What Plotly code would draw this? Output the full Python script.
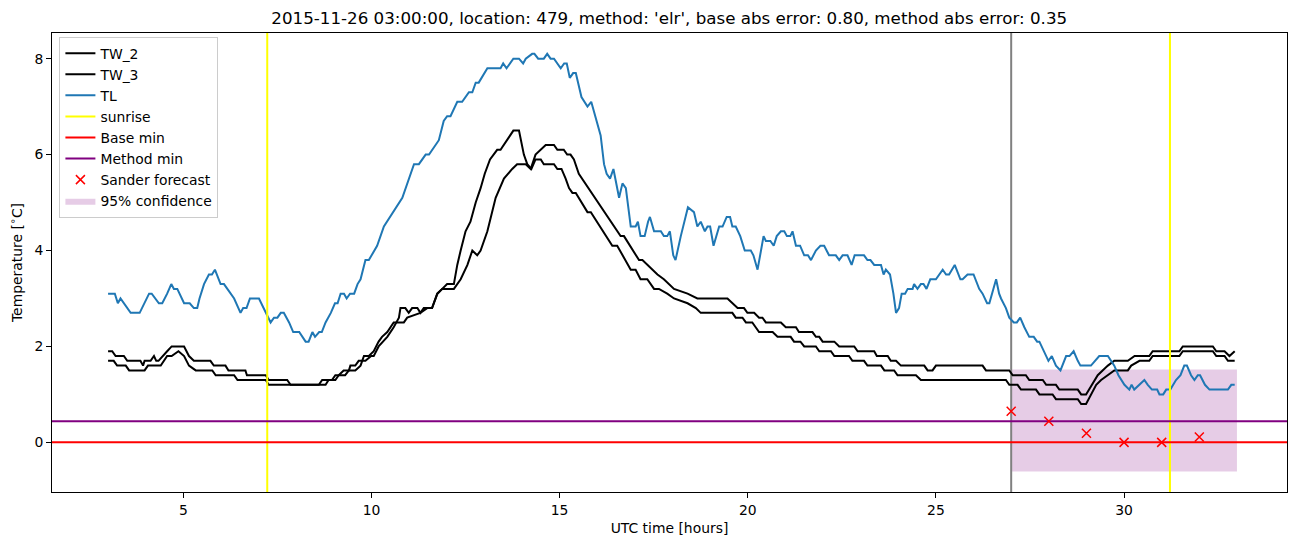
import plotly.graph_objects as go

TITLE = "2015-11-26 03:00:00, location: 479, method: 'elr', base abs error: 0.80, method abs error: 0.35"

TL_POINTS = [
    (3.0, 3.1), (3.18, 3.1), (3.26, 2.9), (3.33, 3.0), (3.6, 2.7), (3.84, 2.7), (4.09, 3.1), (4.16, 3.1),
    (4.35, 2.9), (4.44, 2.9), (4.57, 3.1), (4.68, 3.3), (4.75, 3.2), (4.84, 3.2), (5.02, 2.9), (5.17, 2.9),
    (5.28, 2.8), (5.37, 2.8), (5.43, 3.0), (5.55, 3.3), (5.68, 3.5), (5.76, 3.5), (5.84, 3.6), (5.99, 3.3),
    (6.08, 3.3), (6.35, 3.0), (6.52, 2.7), (6.59, 2.8), (6.68, 2.8), (6.77, 3.0), (7.01, 3.0), (7.19, 2.7),
    (7.32, 2.5), (7.41, 2.6), (7.5, 2.6), (7.59, 2.7), (7.67, 2.7), (7.81, 2.5), (7.92, 2.3), (8.08, 2.3),
    (8.25, 2.1), (8.33, 2.1), (8.43, 2.3), (8.5, 2.2), (8.61, 2.3), (8.68, 2.3), (8.78, 2.5), (8.92, 2.7),
    (9.03, 2.9), (9.1, 2.9), (9.18, 3.1), (9.27, 3.1), (9.34, 3.0), (9.43, 3.1), (9.54, 3.1), (9.63, 3.3),
    (9.71, 3.4), (9.84, 3.8), (9.93, 3.8), (10.15, 4.1), (10.33, 4.5), (10.82, 5.1), (11.13, 5.8), (11.26, 5.8),
    (11.44, 6.0), (11.53, 6.0), (11.79, 6.3), (11.92, 6.7), (12.01, 6.8), (12.1, 6.8), (12.28, 7.1), (12.41, 7.1),
    (12.59, 7.3), (12.68, 7.3), (12.77, 7.5), (12.85, 7.5), (13.08, 7.8), (13.43, 7.8), (13.5, 7.9), (13.59, 7.8),
    (13.77, 8.0), (13.92, 8.0), (14.03, 7.9), (14.1, 8.0), (14.27, 8.1), (14.33, 8.1), (14.43, 8.0), (14.58, 8.0),
    (14.67, 8.1), (14.76, 8.0), (14.85, 8.0), (15.03, 7.8), (15.12, 7.9), (15.19, 7.9), (15.27, 7.6), (15.36, 7.7),
    (15.43, 7.7), (15.58, 7.2), (15.74, 7.0), (15.84, 7.1), (15.91, 6.9), (16.09, 6.4), (16.18, 5.8), (16.25, 5.6),
    (16.34, 5.5), (16.43, 5.7), (16.58, 5.1), (16.67, 5.4), (16.76, 5.3), (16.89, 4.5), (17.02, 4.5), (17.08, 4.6),
    (17.15, 4.3), (17.26, 4.3), (17.35, 4.6), (17.4, 4.7), (17.51, 4.4), (17.69, 4.4), (17.77, 4.3), (17.86, 4.3),
    (17.93, 4.4), (18.02, 3.9), (18.08, 3.8), (18.22, 4.3), (18.41, 4.9), (18.57, 4.8), (18.66, 4.5), (18.75, 4.6),
    (18.86, 4.4), (18.93, 4.5), (19.0, 4.5), (19.09, 4.1), (19.24, 4.5), (19.33, 4.5), (19.44, 4.7), (19.53, 4.7),
    (19.59, 4.5), (19.68, 4.5), (19.8, 4.3), (19.92, 4.0), (20.08, 4.0), (20.15, 3.9), (20.26, 3.6), (20.42, 4.3),
    (20.48, 4.2), (20.6, 4.2), (20.69, 4.1), (20.77, 4.3), (20.88, 4.4), (20.97, 4.4), (21.04, 4.3), (21.13, 4.3),
    (21.19, 4.4), (21.28, 4.1), (21.39, 4.1), (21.5, 3.9), (21.6, 3.9), (21.68, 3.8), (21.81, 4.0), (21.93, 4.1),
    (22.03, 4.1), (22.16, 3.9), (22.34, 3.9), (22.43, 3.8), (22.52, 3.9), (22.65, 3.9), (22.76, 3.7), (22.84, 3.9),
    (23.09, 3.9), (23.18, 3.8), (23.26, 3.8), (23.36, 3.7), (23.54, 3.7), (23.61, 3.5), (23.67, 3.6), (23.78, 3.5),
    (23.87, 3.1), (23.94, 2.7), (24.02, 2.8), (24.09, 3.1), (24.18, 3.1), (24.25, 3.2), (24.38, 3.2), (24.42, 3.3),
    (24.51, 3.2), (24.6, 3.3), (24.67, 3.3), (24.75, 3.2), (24.85, 3.4), (25.0, 3.4), (25.18, 3.6), (25.27, 3.5),
    (25.35, 3.5), (25.5, 3.7), (25.65, 3.4), (25.71, 3.4), (25.84, 3.5), (26.0, 3.5), (26.15, 3.2), (26.24, 3.1),
    (26.36, 2.9), (26.42, 2.9), (26.6, 3.4), (26.68, 3.1), (26.73, 3.0), (26.86, 2.8), (26.95, 2.6), (27.07, 2.5),
    (27.15, 2.5), (27.24, 2.6), (27.35, 2.4), (27.48, 2.2), (27.6, 2.2), (27.69, 2.1), (27.75, 2.1), (27.88, 1.9),
    (27.99, 1.7), (28.08, 1.8), (28.19, 1.6), (28.31, 1.5), (28.46, 1.8), (28.55, 1.8), (28.66, 1.9), (28.77, 1.7),
    (28.84, 1.6), (29.12, 1.6), (29.34, 1.8), (29.57, 1.8), (29.74, 1.6), (29.85, 1.4), (30.01, 1.2), (30.14, 1.1),
    (30.2, 1.2), (30.27, 1.1), (30.41, 1.2), (30.54, 1.3), (30.63, 1.2), (30.74, 1.1), (30.88, 1.1), (30.94, 1.0),
    (31.04, 1.0), (31.12, 1.1), (31.23, 1.1), (31.38, 1.3), (31.5, 1.4), (31.6, 1.6), (31.67, 1.6), (31.78, 1.4),
    (31.87, 1.3), (31.96, 1.4), (32.02, 1.4), (32.15, 1.2), (32.27, 1.1), (32.76, 1.1), (32.85, 1.2), (32.94, 1.2),
]

TW_2_POINTS = [
    (3.0, 1.9), (3.11, 1.9), (3.2, 1.8), (3.42, 1.8), (3.51, 1.7), (3.86, 1.7), (3.93, 1.6), (3.97, 1.7),
    (4.13, 1.7), (4.22, 1.8), (4.28, 1.7), (4.34, 1.7), (4.57, 1.9), (4.69, 2.0), (5.02, 2.0), (5.15, 1.8),
    (5.28, 1.7), (5.72, 1.7), (5.81, 1.6), (6.12, 1.6), (6.2, 1.5), (6.65, 1.5), (6.69, 1.4), (7.19, 1.4),
    (7.27, 1.3), (7.76, 1.3), (7.85, 1.2), (8.78, 1.2), (8.86, 1.3), (9.04, 1.3), (9.13, 1.4), (9.3, 1.4),
    (9.4, 1.5), (9.57, 1.5), (9.71, 1.6), (9.8, 1.8), (9.93, 1.8), (10.06, 1.9), (10.19, 2.1), (10.28, 2.2),
    (10.42, 2.3), (10.59, 2.5), (10.86, 2.5), (10.95, 2.6), (11.3, 2.7), (11.48, 2.8), (11.61, 2.8), (11.75, 3.1),
    (11.88, 3.2), (12.19, 3.2), (12.37, 3.4), (12.55, 3.7), (12.68, 4.0), (12.81, 3.9), (12.9, 4.0), (13.08, 4.4),
    (13.3, 5.1), (13.52, 5.5), (13.74, 5.7), (13.87, 5.8), (14.1, 5.8), (14.23, 5.7), (14.36, 6.0), (14.5, 6.1),
    (14.63, 6.2), (14.85, 6.2), (14.94, 6.1), (15.11, 6.1), (15.2, 6.0), (15.29, 6.0), (15.38, 5.9), (15.51, 5.6),
    (16.62, 4.3), (16.71, 4.3), (17.11, 3.8), (17.2, 3.8), (17.6, 3.5), (17.77, 3.4), (18.04, 3.2), (18.4, 3.1),
    (18.66, 3.0), (19.46, 3.0), (19.59, 2.9), (19.73, 2.8), (19.9, 2.8), (19.99, 2.7), (20.17, 2.7), (20.3, 2.6),
    (20.39, 2.6), (20.48, 2.5), (20.88, 2.5), (21.01, 2.4), (21.28, 2.4), (21.36, 2.3), (21.72, 2.3), (21.81, 2.2),
    (21.9, 2.2), (21.99, 2.1), (22.3, 2.1), (22.43, 2.0), (22.83, 2.0), (22.92, 1.9), (23.36, 1.9), (23.43, 1.8),
    (23.72, 1.8), (23.8, 1.7), (23.94, 1.7), (24.07, 1.6), (24.69, 1.6), (24.78, 1.5), (24.91, 1.5), (25.0, 1.6),
    (26.24, 1.6), (26.33, 1.5), (26.95, 1.5), (27.04, 1.4), (27.39, 1.4), (27.48, 1.3), (27.84, 1.3), (27.93, 1.2),
    (28.19, 1.2), (28.28, 1.1), (28.77, 1.1), (28.86, 1.0), (28.99, 1.0), (29.3, 1.4), (29.43, 1.5), (29.57, 1.6),
    (29.74, 1.7), (30.1, 1.7), (30.28, 1.8), (30.67, 1.8), (30.76, 1.9), (31.47, 1.9), (31.56, 2.0), (32.36, 2.0),
    (32.45, 1.9), (32.67, 1.9), (32.8, 1.8), (32.94, 1.9),
]

TW_3_POINTS = [
    (3.0, 1.7), (3.15, 1.7), (3.24, 1.6), (3.47, 1.6), (3.56, 1.5), (3.97, 1.5), (4.06, 1.6), (4.4, 1.6),
    (4.57, 1.8), (4.69, 1.8), (4.87, 1.9), (5.02, 1.8), (5.15, 1.6), (5.33, 1.5), (5.77, 1.5), (5.86, 1.4),
    (6.35, 1.4), (6.44, 1.3), (7.19, 1.3), (7.27, 1.2), (8.6, 1.2), (8.69, 1.3), (8.95, 1.3), (9.04, 1.4),
    (9.13, 1.4), (9.26, 1.5), (9.4, 1.5), (9.44, 1.6), (9.57, 1.6), (9.66, 1.7), (9.84, 1.7), (9.99, 1.8),
    (10.06, 1.8), (10.19, 2.0), (10.42, 2.2), (10.59, 2.4), (10.73, 2.6), (10.77, 2.8), (10.9, 2.8), (10.99, 2.7),
    (11.08, 2.8), (11.22, 2.8), (11.3, 2.7), (11.39, 2.8), (11.61, 2.8), (11.75, 3.1), (11.88, 3.2), (12.01, 3.3),
    (12.19, 3.3), (12.28, 3.7), (12.37, 4.0), (12.5, 4.4), (12.63, 4.6), (12.77, 5.0), (12.9, 5.3), (13.01, 5.6),
    (13.15, 5.9), (13.34, 6.1), (13.43, 6.1), (13.61, 6.3), (13.77, 6.5), (13.92, 6.5), (14.05, 6.0), (14.14, 5.8),
    (14.25, 5.7), (14.36, 5.9), (14.5, 5.9), (14.58, 5.8), (14.85, 5.8), (14.94, 5.7), (15.05, 5.7), (15.16, 5.5),
    (15.25, 5.3), (15.34, 5.2), (15.43, 5.2), (15.74, 4.8), (15.83, 4.8), (16.4, 4.1), (16.53, 4.1), (16.89, 3.6),
    (17.02, 3.6), (17.15, 3.4), (17.33, 3.4), (17.51, 3.2), (17.64, 3.2), (17.86, 3.1), (18.04, 3.0), (18.4, 2.9),
    (18.62, 2.8), (18.75, 2.7), (19.59, 2.7), (19.68, 2.6), (19.86, 2.6), (19.95, 2.5), (20.12, 2.5), (20.21, 2.4),
    (20.3, 2.3), (20.66, 2.3), (20.79, 2.2), (21.14, 2.2), (21.23, 2.1), (21.4, 2.1), (21.5, 2.0), (21.81, 2.0),
    (21.9, 1.9), (22.21, 1.9), (22.3, 1.8), (22.69, 1.8), (22.78, 1.7), (23.09, 1.7), (23.18, 1.6), (23.54, 1.6),
    (23.63, 1.5), (23.89, 1.5), (23.98, 1.4), (24.47, 1.4), (24.6, 1.3), (26.86, 1.3), (26.95, 1.2), (27.17, 1.2),
    (27.26, 1.1), (27.66, 1.1), (27.75, 1.0), (28.1, 1.0), (28.19, 0.9), (28.77, 0.9), (28.86, 0.8), (28.99, 0.8),
    (29.26, 1.2), (29.39, 1.3), (29.57, 1.4), (29.74, 1.5), (30.1, 1.5), (30.19, 1.6), (30.41, 1.7), (30.67, 1.7),
    (30.76, 1.8), (31.47, 1.8), (31.56, 1.9), (32.36, 1.9), (32.45, 1.8), (32.67, 1.8), (32.76, 1.7), (32.94, 1.7),
]

SUNRISE_TIMES = [7.23, 31.22]
FORECAST_START = 27.0
BASE_MIN = 0.0
METHOD_MIN = 0.44
SANDER_X = [27, 28, 29, 30, 31, 32]
SANDER_Y = [0.65, 0.44, 0.19, 0.0, 0.0, 0.11]
CONF_X = [27.0, 33.0]
CONF_LO = -0.61
CONF_HI = 1.52

X_RANGE = [1.51, 34.33]
Y_RANGE = [-1.035, 8.535]
X_TICKS = [5, 10, 15, 20, 25, 30]
Y_TICKS = [0, 2, 4, 6, 8]

FONT = "DejaVu Sans"
LW = 2.0

tl_x, tl_y = zip(*TL_POINTS)
tw2_x, tw2_y = zip(*TW_2_POINTS)
tw3_x, tw3_y = zip(*TW_3_POINTS)

fig = go.Figure()

# 95% confidence band (drawn first, listed last)
fig.add_trace(go.Scatter(
    x=[CONF_X[0], CONF_X[1], CONF_X[1], CONF_X[0], CONF_X[0]],
    y=[CONF_LO, CONF_LO, CONF_HI, CONF_HI, CONF_LO],
    fill="toself", fillcolor="rgba(128,0,128,0.2)", mode="lines",
    line=dict(width=0, color="rgba(128,0,128,0)"),
    name="95% confidence", legendrank=8, hoverinfo="skip"))

# forecast start marker line
fig.add_trace(go.Scatter(
    x=[FORECAST_START, FORECAST_START], y=Y_RANGE, mode="lines",
    line=dict(color="#808080", width=LW), showlegend=False, hoverinfo="skip"))

fig.add_trace(go.Scatter(x=tw2_x, y=tw2_y, mode="lines", name="TW_2",
                         line=dict(color="black", width=LW), legendrank=1))
fig.add_trace(go.Scatter(x=tw3_x, y=tw3_y, mode="lines", name="TW_3",
                         line=dict(color="black", width=LW), legendrank=2))
fig.add_trace(go.Scatter(x=tl_x, y=tl_y, mode="lines", name="TL",
                         line=dict(color="#1f77b4", width=LW), legendrank=3))

sx, sy = [], []
for t in SUNRISE_TIMES:
    sx += [t, t, None]
    sy += [Y_RANGE[0], Y_RANGE[1], None]
fig.add_trace(go.Scatter(x=sx, y=sy, mode="lines", name="sunrise",
                         line=dict(color="yellow", width=LW), legendrank=4))

fig.add_trace(go.Scatter(x=X_RANGE, y=[BASE_MIN, BASE_MIN], mode="lines", name="Base min",
                         line=dict(color="red", width=LW), legendrank=5))
fig.add_trace(go.Scatter(x=X_RANGE, y=[METHOD_MIN, METHOD_MIN], mode="lines", name="Method min",
                         line=dict(color="purple", width=LW), legendrank=6))
fig.add_trace(go.Scatter(x=SANDER_X, y=SANDER_Y, mode="markers", name="Sander forecast",
                         marker=dict(symbol="x-thin", size=9, color="red",
                                     line=dict(color="red", width=1.5)),
                         legendrank=7))

axis_common = dict(
    showline=True, mirror=True, linecolor="black", linewidth=1,
    ticks="outside", ticklen=5, tickwidth=1, tickcolor="black",
    showgrid=False, zeroline=False,
    tickfont=dict(family=FONT, size=13.9, color="black"),
)

fig.update_layout(
    width=1302, height=547,
    margin=dict(l=52, r=15, t=33, b=55),
    paper_bgcolor="white", plot_bgcolor="white",
    font=dict(family=FONT, size=13.9, color="black"),
    title=dict(text=TITLE, x=0.514, xanchor="center", y=1 - 18 / 547, yanchor="middle",
               yref="container", font=dict(family=FONT, size=16.7, color="black")),
    xaxis=dict(range=X_RANGE, tickvals=X_TICKS,
               title=dict(text="UTC time [hours]", standoff=6,
                          font=dict(family=FONT, size=13.9, color="black")),
               **axis_common),
    yaxis=dict(range=Y_RANGE, tickvals=Y_TICKS,
               title=dict(text="Temperature [<sup>∘</sup>C]", standoff=8,
                          font=dict(family=FONT, size=13.9, color="black")),
               **axis_common),
    legend=dict(x=0.006, y=0.992, xanchor="left", yanchor="top",
                bgcolor="rgba(255,255,255,0.8)", bordercolor="#cccccc", borderwidth=1,
                font=dict(family=FONT, size=13.9, color="black"),
                itemwidth=30, tracegroupgap=0),
    showlegend=True,
)

fig.write_html("out.html")
